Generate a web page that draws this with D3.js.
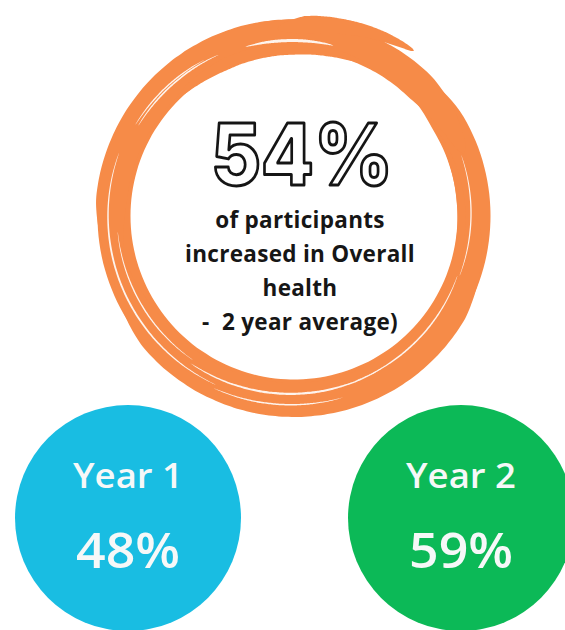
<!DOCTYPE html>
<html>
<head>
<meta charset="utf-8">
<script src="https://cdn.jsdelivr.net/npm/d3@7/dist/d3.min.js"></script>
<style>
  html, body { margin: 0; padding: 0; background: #ffffff; }
  svg { display: block; }
</style>
</head>
<body>
<div id="chart"></div>
<script>
// Headline figure and the per-year breakdown
const averageValue = 54;
const averageCaption = ["of participants", "increased in Overall", "health", "-  2 year average)"];
const yearLabels = ["Year 1", "Year 2"];
const yearValues = [48, 59];
const yearColors = ["#19bde2", "#0cb957"];

const width = 565, height = 630;
const svg = d3.select("#chart").append("svg")
  .attr("width", width).attr("height", height);

const ringCx = 294, ringCy = 216;
const ringColor = "#f68b48";
const rad = d => d * Math.PI / 180;

// Brush-stroke ring: several tapered radial bands laid over each other
const strokes = [
  { a0: 28, a1: 385, r0: 180, r1: 180, w: 33, t0: 30, t1: 20 },
  { a0: -110, a1: 70, r0: 181, r1: 183, w: 31, t0: 25, t1: 25, dx: -2, dy: 1 },
  { a0: 90, a1: 260, r0: 181, r1: 181, w: 34, t0: 30, t1: 30, dx: 0, dy: 3 },
  { a0: -5, a1: 36, r0: 188, r1: 204, w: 18, t0: 8, t1: 30 },
  { a0: -45, a1: 25, r0: 166, r1: 168, w: 12, t0: 20, t1: 25 },
  { a0: 60, a1: 140, r0: 166, r1: 170, w: 8, t0: 25, t1: 25 }
];

// White dry-brush streaks inside the band
const streaks = [
  { a0: -16, a1: 13, r0: 176, r1: 175, w: 3, t0: 10, t1: 10 },
  { a0: -60, a1: -25, r0: 180, r1: 178, w: 1.6, t0: 12, t1: 12 },
  { a0: 205, a1: 290, r0: 186, r1: 186, w: 1.8, t0: 30, t1: 30 },
  { a0: 215, a1: 265, r0: 176, r1: 177, w: 1.4, t0: 20, t1: 20 },
  { a0: 150, a1: 215, r0: 176, r1: 180, w: 2.2, t0: 25, t1: 25 },
  { a0: 165, a1: 205, r0: 188, r1: 190, w: 1.5, t0: 15, t1: 15 },
  { a0: 110, a1: 160, r0: 174, r1: 176, w: 1.6, t0: 20, t1: 20 },
  { a0: 70, a1: 110, r0: 178, r1: 176, w: 1.3, t0: 15, t1: 15 },
  { a0: 300, a1: 330, r0: 183, r1: 180, w: 1.4, t0: 10, t1: 10 }
];

function bandPoints(s) {
  const n = 90;
  const pts = [];
  for (let i = 0; i <= n; i++) {
    const a = s.a0 + (s.a1 - s.a0) * i / n;
    const rm = s.r0 + (s.r1 - s.r0) * i / n;
    let k = 1;
    const fromStart = a - s.a0, toEnd = s.a1 - a;
    if (fromStart < s.t0) k = Math.min(k, Math.sqrt(fromStart / s.t0));
    if (toEnd < s.t1) k = Math.min(k, Math.sqrt(toEnd / s.t1));
    const hw = s.w * k / 2;
    pts.push({ a: rad(a), ri: rm - hw, ro: rm + hw });
  }
  return pts;
}

const band = d3.areaRadial()
  .angle(d => d.a)
  .innerRadius(d => d.ri)
  .outerRadius(d => d.ro)
  .curve(d3.curveCatmullRom);

const ring = svg.append("g").attr("class", "ring");
ring.selectAll("path.stroke").data(strokes).join("path")
  .attr("class", "stroke")
  .attr("transform", s => `translate(${ringCx + (s.dx || 0)},${ringCy + (s.dy || 0)})`)
  .attr("d", s => band(bandPoints(s)))
  .attr("fill", ringColor);
ring.selectAll("path.streak").data(streaks).join("path")
  .attr("class", "streak")
  .attr("transform", `translate(${ringCx},${ringCy})`)
  .attr("d", s => band(bandPoints(s)))
  .attr("fill", "#ffffff")
  .attr("opacity", 0.9);

// Headline percentage, outlined lettering
svg.append("text")
  .attr("x", 302).attr("y", 185)
  .attr("text-anchor", "middle")
  .attr("font-family", "Inter, 'Noto Sans', sans-serif")
  .attr("font-weight", 800)
  .attr("font-size", 85)
  .attr("textLength", 182)
  .attr("lengthAdjust", "spacingAndGlyphs")
  .attr("fill", "#ffffff")
  .attr("stroke", "#151515")
  .attr("stroke-width", 3)
  .attr("stroke-linejoin", "round")
  .text(averageValue + "%");

// Caption lines
svg.append("g").selectAll("text").data(averageCaption).join("text")
  .attr("x", 300)
  .attr("y", (d, i) => 228 + i * 34)
  .attr("text-anchor", "middle")
  .attr("font-family", "'Open Sans', sans-serif")
  .attr("font-weight", 700)
  .attr("font-size", 22.5)
  .attr("letter-spacing", 0.3)
  .attr("fill", "#161616")
  .style("white-space", "pre")
  .text(d => d);

// Year circles
const x = d3.scalePoint().domain(yearLabels).range([128, 461]);
const yearData = yearLabels.map((label, i) => ({ label, value: yearValues[i], color: yearColors[i] }));

const years = svg.append("g").selectAll("g").data(yearData).join("g")
  .attr("transform", d => `translate(${x(d.label)},518)`);

years.append("circle")
  .attr("r", 113)
  .attr("fill", d => d.color);

years.append("text")
  .attr("y", -30)
  .attr("text-anchor", "middle")
  .attr("font-family", "'Open Sans', sans-serif")
  .attr("font-weight", 600)
  .attr("font-size", 35)
  .attr("textLength", 110)
  .attr("lengthAdjust", "spacingAndGlyphs")
  .attr("fill", "#f6f8f8")
  .text(d => d.label);

years.append("text")
  .attr("y", 50)
  .attr("text-anchor", "middle")
  .attr("font-family", "'Open Sans', sans-serif")
  .attr("font-weight", 600)
  .attr("font-size", 49)
  .attr("textLength", 104)
  .attr("lengthAdjust", "spacingAndGlyphs")
  .attr("fill", "#f6f8f8")
  .text(d => d.value + "%");
</script>
</body>
</html>
